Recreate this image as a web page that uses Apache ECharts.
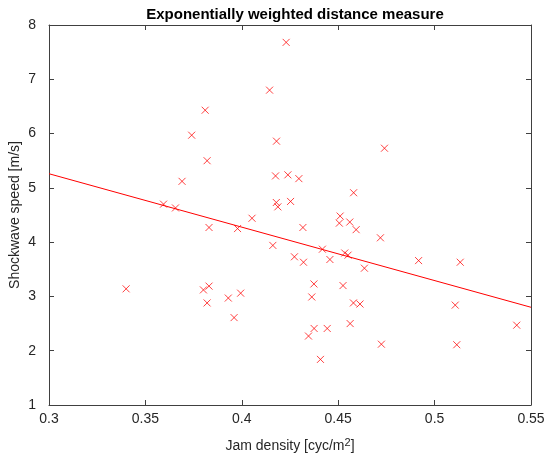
<!DOCTYPE html>
<html>
<head>
<meta charset="utf-8">
<script src="https://cdn.jsdelivr.net/npm/echarts@6/dist/echarts.min.js"></script>
<style>
  html, body { margin: 0; padding: 0; background: #fff; }
  #chart { width: 550px; height: 463px; }
</style>
</head>
<body>
<div id="chart"></div>
<script>
// jam density [cyc/m^2]
const jamDensity = [
  0.423, 0.4144, 0.381, 0.374, 0.382, 0.418, 0.369, 0.4175, 0.4239, 0.4296,
  0.474, 0.4179, 0.4187, 0.4253, 0.458, 0.451, 0.4506, 0.456, 0.4593, 0.4317,
  0.4719, 0.3594, 0.3656, 0.4053, 0.383, 0.3978, 0.4161, 0.34, 0.3801, 0.383,
  0.382, 0.393, 0.3994, 0.396, 0.4273, 0.432, 0.4418, 0.4457, 0.4534, 0.4551,
  0.4636, 0.4917, 0.5133, 0.4374, 0.4525, 0.4363, 0.4579, 0.4613, 0.5107, 0.4562,
  0.5426, 0.4375, 0.4443, 0.4346, 0.4724, 0.5115, 0.4408
]
// shockwave speed [m/s]
const shockSpeed = [
  7.68, 6.80, 6.43, 5.97, 5.50, 5.86, 5.12, 5.22, 5.24, 5.17,
  5.73, 4.73, 4.65, 4.75, 4.91, 4.48, 4.35, 4.37, 4.23, 4.27,
  4.08, 4.70, 4.63, 4.44, 4.27, 4.25, 3.94, 3.14, 3.12, 3.19,
  2.88, 2.97, 3.06, 2.61, 3.73, 3.63, 3.87, 3.68, 3.80, 3.76,
  3.52, 3.66, 3.63, 3.23, 3.20, 2.99, 2.88, 2.86, 2.84, 2.50,
  2.47, 2.41, 2.41, 2.27, 2.12, 2.11, 1.84
]
// fitted line end points
const fitX = [0.3, 0.55]
const fitY = [5.26, 2.80]

const xTicks = [0.3, 0.35, 0.4, 0.45, 0.5, 0.55]
const yTicks = [1, 2, 3, 4, 5, 6, 7, 8]

const textColor = '#262626'
const axisColor = '#404040'
const font = 'Arial, "Liberation Sans", Helvetica, sans-serif'

const points = jamDensity.map((x, i) => [x, shockSpeed[i]])
const fitLine = fitX.map((x, i) => [x, fitY[i]])

const boxAxis = (pos, name, min, max, interval, show) => ({
  type: 'value',
  position: pos,
  min, max, interval,
  name: show ? name : '',
  nameLocation: 'middle',
  nameMoveOverlap: false,
  nameTextStyle: {
    color: textColor, fontSize: 14, fontFamily: font,
    rich: { sup: { color: textColor, fontSize: 11, fontFamily: font, verticalAlign: 'bottom', padding: [0, 0, 8, 0] } }
  },
  axisLine: { show: true, onZero: false, lineStyle: { color: axisColor, width: 1 } },
  axisTick: { show: true, inside: true, length: 5, lineStyle: { color: axisColor } },
  axisLabel: {
    show,
    color: textColor, fontSize: 14, fontFamily: font,
    formatter: v => String(+v.toFixed(2))
  },
  splitLine: { show: false }
})

const xBottom = boxAxis('bottom', 'Jam density [cyc/m{sup|2}]', xTicks[0], xTicks[xTicks.length - 1], 0.05, true)
xBottom.nameGap = 32
xBottom.axisLabel.margin = 7
const xTop = boxAxis('top', '', xTicks[0], xTicks[xTicks.length - 1], 0.05, false)
const yLeft = boxAxis('left', 'Shockwave speed [m/s]', yTicks[0], yTicks[yTicks.length - 1], 1, true)
yLeft.nameGap = 27
yLeft.axisLabel.margin = 13
const yRight = boxAxis('right', '', yTicks[0], yTicks[yTicks.length - 1], 1, false)

const chart = echarts.init(document.getElementById('chart'))
chart.setOption({
  animation: false,
  backgroundColor: '#fff',
  title: {
    text: 'Exponentially weighted distance measure',
    left: 290, top: 2, textAlign: 'center',
    textStyle: { color: '#000', fontSize: 15, fontWeight: 'bold', fontFamily: font }
  },
  grid: { left: 49, right: 19, top: 25, bottom: 58, containLabel: false, outerBoundsMode: 'none' },
  xAxis: [xBottom, xTop],
  yAxis: [yLeft, yRight],
  series: [
    {
      type: 'line',
      data: fitLine,
      xAxisIndex: 0, yAxisIndex: 0,
      showSymbol: false,
      lineStyle: { color: '#ff0000', width: 1 },
      z: 3
    },
    {
      type: 'custom',
      data: points,
      xAxisIndex: 0, yAxisIndex: 0,
      z: 4,
      renderItem: (params, api) => {
        const p = api.coord([api.value(0), api.value(1)])
        const h = 3.5
        const style = { stroke: '#ff0000', lineWidth: 1, opacity: 0.75 }
        return {
          type: 'group',
          children: [
            { type: 'line', shape: { x1: p[0] - h, y1: p[1] - h, x2: p[0] + h, y2: p[1] + h }, style },
            { type: 'line', shape: { x1: p[0] - h, y1: p[1] + h, x2: p[0] + h, y2: p[1] - h }, style }
          ]
        }
      }
    }
  ]
})
</script>
</body>
</html>
